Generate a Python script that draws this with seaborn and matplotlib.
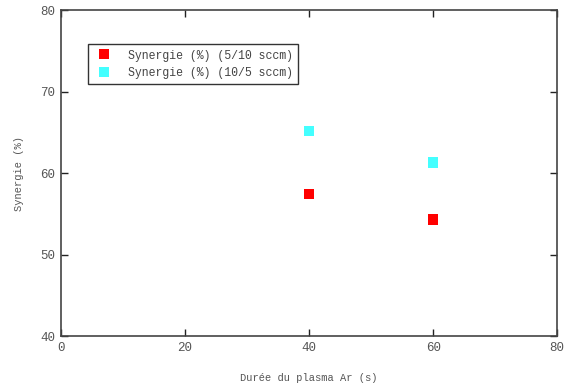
import pandas as pd
import matplotlib
matplotlib.use("Agg")
import matplotlib.pyplot as plt
import seaborn as sns

# Data
duree = [40, 60]
syn_5_10 = [57.4, 54.3]
syn_10_5 = [65.2, 61.3]
series = ["Synergie (%) (5/10 sccm)", "Synergie (%) (10/5 sccm)"]

df = pd.DataFrame({
    "Durée": duree + duree,
    "Synergie": syn_5_10 + syn_10_5,
    "Serie": [series[0]] * 2 + [series[1]] * 2,
})

sns.set_style("white")
plt.rcParams["font.family"] = ["Liberation Mono", "DejaVu Sans Mono"]

fig = plt.figure(figsize=(5.64, 3.89), dpi=100)
ax = fig.add_axes([0.108, 0.136, 0.88, 0.838])

sns.scatterplot(data=df, x="Durée", y="Synergie", hue="Serie",
                palette=["#ff0000", "#44ffff"], marker="s", s=55,
                linewidth=0, ax=ax)

ax.set_xlim(0, 80)
ax.set_ylim(40, 80)
ax.set_xticks([0, 20, 40, 60, 80])
ax.set_yticks([40, 50, 60, 70, 80])
ax.tick_params(direction="in", length=5, width=1, labelsize=9, colors="#555555",
               top=True, right=True, bottom=True, left=True, pad=4)
ax.tick_params(color="#222222")
for s in ax.spines.values():
    s.set_color("#444444")
    s.set_linewidth(1.2)

ax.set_xlabel("Durée du plasma Ar (s)", fontsize=7.5, color="#555555", labelpad=14)
ax.set_ylabel("Synergie (%)", fontsize=7.5, color="#555555", labelpad=12)

leg = ax.legend(loc="upper left", bbox_to_anchor=(0.054, 0.895), frameon=True,
                fancybox=False, fontsize=8.3, borderpad=0.45, handletextpad=1.05,
                labelspacing=0.5, borderaxespad=0)
leg.get_frame().set_edgecolor("black")
leg.get_frame().set_linewidth(1)
for t in leg.get_texts():
    t.set_color("#444444")

fig.savefig("out.png", dpi=100)
